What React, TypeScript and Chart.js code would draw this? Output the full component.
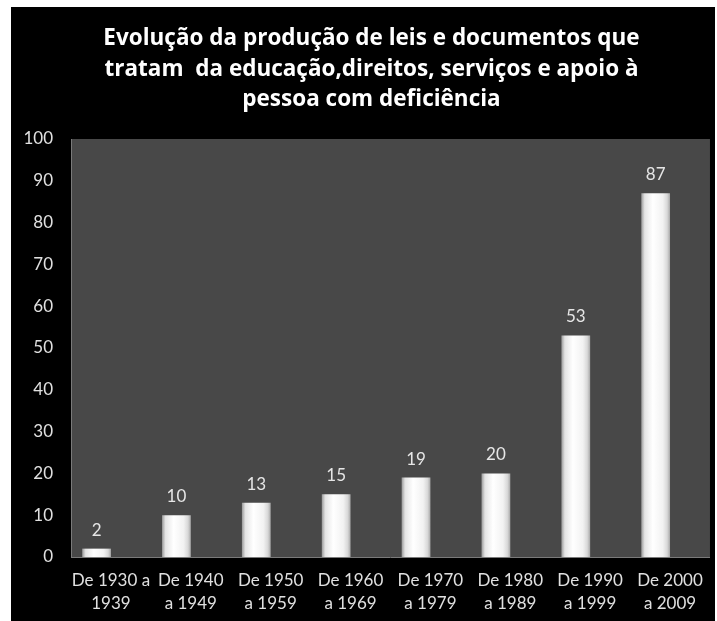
import React, { useEffect, useRef } from "react";
import { Chart, registerables } from "chart.js";

Chart.register(...registerables);

const titleLines = [
  "Evolução da produção de leis e documentos que",
  "tratam  da educação,direitos, serviços e apoio à",
  "pessoa com deficiência",
];

const categories: string[][] = [
  ["De 1930 a", "1939"],
  ["De 1940", "a 1949"],
  ["De 1950", "a 1959"],
  ["De 1960", "a 1969"],
  ["De 1970", "a 1979"],
  ["De 1980", "a 1989"],
  ["De 1990", "a 1999"],
  ["De 2000", "a 2009"],
];

const values = [2, 10, 13, 15, 19, 20, 53, 87];

const yMin = 0;
const yMax = 100;
const yStep = 10;

const FONT = "Lato, 'Open Sans', sans-serif";
const TITLE_FONT = "'Open Sans', Lato, sans-serif";
const BAR_SHIFT = 0.18; // bars sit left of the category centre in the original

const plotBg = {
  id: "plotBg",
  beforeDraw(chart: any) {
    const { ctx, chartArea } = chart;
    if (!chartArea) return;
    ctx.save();
    ctx.fillStyle = "#484848";
    ctx.fillRect(chartArea.left, chartArea.top, chartArea.right - chartArea.left, chartArea.bottom - chartArea.top);
    ctx.restore();
  },
};

const titlePlugin = {
  id: "titleText",
  afterDraw(chart: any) {
    const { ctx } = chart;
    ctx.save();
    ctx.fillStyle = "#ffffff";
    ctx.font = `bold 22.5px ${TITLE_FONT}`;
    ctx.textAlign = "center";
    ctx.textBaseline = "middle";
    titleLines.forEach((line, i) => {
      ctx.fillText(line, 360.5, 32 + i * 30.5);
    });
    ctx.restore();
  },
};

const valueLabels = {
  id: "valueLabels",
  afterDatasetsDraw(chart: any) {
    const { ctx } = chart;
    const meta = chart.getDatasetMeta(0);
    ctx.save();
    ctx.fillStyle = "#e6e6e6";
    ctx.font = `17px ${FONT}`;
    ctx.textAlign = "center";
    ctx.textBaseline = "middle";
    meta.data.forEach((el: any, i: number) => {
      ctx.fillText(String(values[i]), el.x, el.y - 18.5);
    });
    ctx.restore();
  },
};

export default function App() {
  const ref = useRef<HTMLCanvasElement | null>(null);

  useEffect(() => {
    if (!ref.current) return;
    const chart = new Chart(ref.current, {
      type: "bar",
      data: {
        labels: categories,
        datasets: [
          {
            data: values.map((v, i) => ({ x: i, y: v })),
            xAxisID: "xb",
            borderWidth: 0,
            categoryPercentage: 1,
            barPercentage: 0.36,
            backgroundColor: (c: any) => {
              const ch = c.chart;
              const area = ch.chartArea;
              const xs = ch.scales?.xb;
              if (!area || !xs) return "#dddddd";
              const cx = xs.getPixelForValue(c.dataIndex);
              const w = ((area.right - area.left) / categories.length) * 0.36;
              const g = ch.ctx.createLinearGradient(cx - w / 2, 0, cx + w / 2, 0);
              g.addColorStop(0, "#9a9a9a");
              g.addColorStop(0.12, "#e4e4e4");
              g.addColorStop(0.4, "#ffffff");
              g.addColorStop(0.75, "#f2f2f2");
              g.addColorStop(0.9, "#d8d8d8");
              g.addColorStop(1, "#a8a8a8");
              return g;
            },
          },
        ],
      },
      options: {
        animation: false,
        responsive: false,
        maintainAspectRatio: false,
        layout: { padding: { left: 0, right: 3, top: 132, bottom: 0 } },
        plugins: {
          legend: { display: false },
          tooltip: { enabled: false },
          title: { display: false },
        },
        scales: {
          x: {
            type: "category",
            display: true,
            grid: { display: false, drawTicks: false },
            border: { display: true, color: "#7a7a7a", width: 1 },
            ticks: {
              color: "#e0e0e0",
              font: { family: FONT, size: 17, lineHeight: 1.35 },
              padding: 12,
              maxRotation: 0,
              autoSkip: false,
            },
            afterFit(scale: any) {
              scale.height = 64;
            },
          },
          xb: {
            type: "linear",
            display: false,
            min: -0.5 + BAR_SHIFT,
            max: categories.length - 0.5 + BAR_SHIFT,
            offset: false,
            ticks: { stepSize: 1, includeBounds: false },
          },
          y: {
            min: yMin,
            max: yMax,
            grid: { display: false, drawTicks: false },
            border: { display: true, color: "#7a7a7a", width: 1 },
            ticks: {
              stepSize: yStep,
              color: "#e0e0e0",
              font: { family: FONT, size: 17 },
              padding: 18,
            },
            afterFit(scale: any) {
              scale.width = 60;
            },
          },
        },
      },
      plugins: [plotBg, valueLabels, titlePlugin],
    });
    return () => chart.destroy();
  }, []);

  return (
    <div style={{ position: "absolute", left: 0, top: 0, width: 717, height: 621, background: "#ffffff" }}>
      <canvas
        ref={ref}
        width={704}
        height={614}
        style={{ position: "absolute", left: 11, top: 7, width: 704, height: 614, background: "#000000" }}
      />
    </div>
  );
}
